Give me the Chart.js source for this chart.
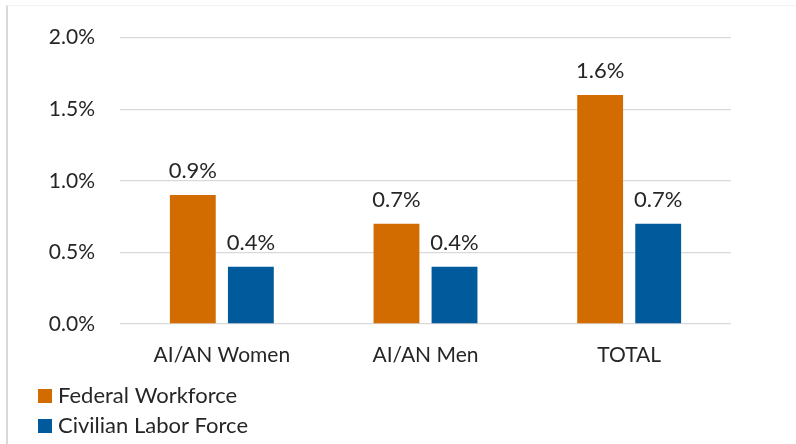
<!DOCTYPE html>
<html>
<head>
<meta charset="utf-8">
<script src="https://cdn.jsdelivr.net/npm/chart.js@4.4.0/dist/chart.umd.min.js"></script>
<style>
    html, body { margin: 0; padding: 0; background: #fff; }
    .wrap { position: relative; width: 796px; height: 444px; }
    .frame { position: absolute; left: 6px; top: 5px; right: 0; bottom: 0; border-left: 2px solid #d9d9d9; border-top: 1px solid #f3f3f3; pointer-events: none; }
    canvas { position: absolute; left: 0; top: 0; }
</style>
</head>
<body>
<div class="wrap">
    <canvas id="aianChart" width="796" height="444"></canvas>
    <div class="frame"></div>
</div>
<script>
const categories = ['AI/AN Women', 'AI/AN Men', 'TOTAL'];
const seriesNames = ['Federal Workforce', 'Civilian Labor Force'];
const federalWorkforce = [0.9, 0.7, 1.6];
const civilianLaborForce = [0.4, 0.4, 0.7];
const yTicks = [0, 0.5, 1.0, 1.5, 2.0];

const FONT = 'Lato, "Noto Sans", sans-serif';
const TEXT = '#262626';

// value labels above each bar
const valueLabels = {
    id: 'valueLabels',
    afterDatasetsDraw(chart) {
        const ctx = chart.ctx;
        ctx.save();
        ctx.font = '22px ' + FONT;
        ctx.fillStyle = TEXT;
        ctx.textAlign = 'center';
        ctx.textBaseline = 'alphabetic';
        chart.data.datasets.forEach((ds, i) => {
            chart.getDatasetMeta(i).data.forEach((bar, j) => {
                ctx.fillText(ds.data[j].toFixed(1) + '%', bar.x, bar.y - 17);
            });
        });
        ctx.restore();
    }
};

// stacked legend at the bottom left
const stackedLegend = {
    id: 'stackedLegend',
    afterDraw(chart) {
        const ctx = chart.ctx;
        ctx.save();
        ctx.font = '22px ' + FONT;
        ctx.textBaseline = 'alphabetic';
        chart.data.datasets.forEach((ds, i) => {
            const top = 389 + i * 30;
            ctx.fillStyle = ds.backgroundColor;
            ctx.fillRect(38, top, 14, 14);
            ctx.fillStyle = TEXT;
            ctx.fillText(ds.label, 58, top + 14);
        });
        ctx.restore();
    }
};

document.addEventListener('DOMContentLoaded', () => {

    const aianChart = document.getElementById('aianChart');
    if(aianChart){
        new Chart(aianChart.getContext('2d'), {
            type: 'bar',
            data: {
                labels: categories,
                datasets: [
                {
                    label: seriesNames[0],
                    data: federalWorkforce,
                    backgroundColor: '#D36C00',
                    categoryPercentage: 0.57,
                    barPercentage: 0.79
                },
                {
                    label: seriesNames[1],
                    data: civilianLaborForce,
                    backgroundColor: '#005A9B',
                    categoryPercentage: 0.57,
                    barPercentage: 0.79
                }
                ]
            },
            options: {
                responsive: false,
                animation: false,
                layout: {
                    padding: { left: 0, right: 65, top: 33, bottom: 80 }
                },
                plugins: {
                    legend: { display: false },
                    tooltip: { enabled: false }
                },
                scales: {
                    x: {
                        grid: { display: false, drawTicks: false },
                        border: { display: false },
                        ticks: {
                            color: TEXT,
                            font: { family: FONT, size: 21 },
                            padding: 19
                        },
                        afterFit: s => { s.height = 40; }
                    },
                    y: {
                        min: 0,
                        max: 2.0,
                        afterBuildTicks: s => { s.ticks = yTicks.map(v => ({ value: v })); },
                        grid: { color: '#d9d9d9', lineWidth: 1.3, drawTicks: false },
                        border: { display: false },
                        ticks: {
                            color: TEXT,
                            font: { family: FONT, size: 21 },
                            padding: 25,
                            callback: v => v.toFixed(1) + '%'
                        },
                        afterFit: s => { s.width = 120; }
                    }
                }
            },
            plugins: [valueLabels, stackedLegend]
        });
    }

});
</script>
</body>
</html>
